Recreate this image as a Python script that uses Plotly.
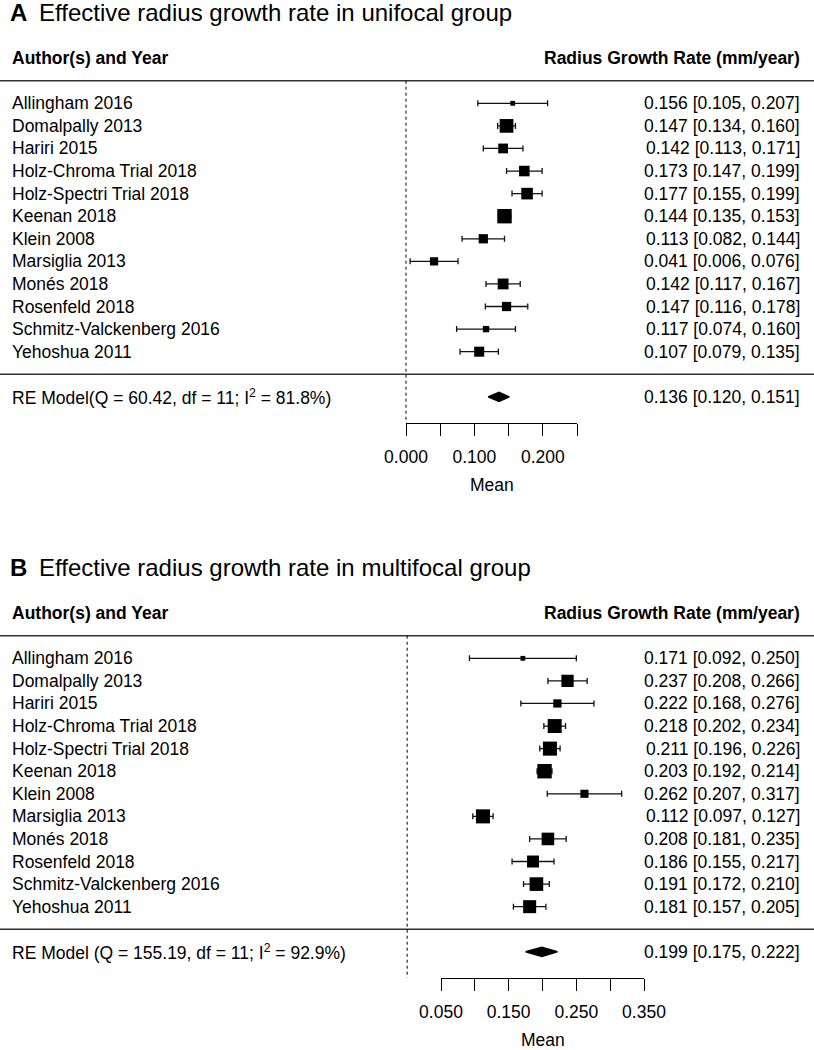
import numpy as np
import plotly.graph_objects as go

# ---------------- data ----------------
studies = ["Allingham 2016", "Domalpally 2013", "Hariri 2015", "Holz-Chroma Trial 2018",
           "Holz-Spectri Trial 2018", "Keenan 2018", "Klein 2008", "Marsiglia 2013",
           "Monés 2018", "Rosenfeld 2018", "Schmitz-Valckenberg 2016", "Yehoshua 2011"]

uni_est = [0.156, 0.147, 0.142, 0.173, 0.177, 0.144, 0.113, 0.041, 0.142, 0.147, 0.117, 0.107]
uni_lo = [0.105, 0.134, 0.113, 0.147, 0.155, 0.135, 0.082, 0.006, 0.117, 0.116, 0.074, 0.079]
uni_hi = [0.207, 0.160, 0.171, 0.199, 0.199, 0.153, 0.144, 0.076, 0.167, 0.178, 0.160, 0.135]
uni_re = [0.136, 0.120, 0.151]          # estimate, lower, upper
uni_het = [60.42, 11, 81.8]             # Q, df, I^2
uni_ticks = [0.00, 0.05, 0.10, 0.15, 0.20, 0.25]
uni_ticklabels = ["0.000", "", "0.100", "", "0.200", ""]

multi_est = [0.171, 0.237, 0.222, 0.218, 0.211, 0.203, 0.262, 0.112, 0.208, 0.186, 0.191, 0.181]
multi_lo = [0.092, 0.208, 0.168, 0.202, 0.196, 0.192, 0.207, 0.097, 0.181, 0.155, 0.172, 0.157]
multi_hi = [0.250, 0.266, 0.276, 0.234, 0.226, 0.214, 0.317, 0.127, 0.235, 0.217, 0.210, 0.205]
multi_re = [0.199, 0.175, 0.222]
multi_het = [155.19, 11, 92.9]
multi_ticks = [0.05, 0.10, 0.15, 0.20, 0.25, 0.30, 0.35]
multi_ticklabels = ["0.050", "", "0.150", "", "0.250", "", "0.350"]

titles = ["Effective radius growth rate in unifocal group",
          "Effective radius growth rate in multifocal group"]
letters = ["A", "B"]
header_left = "Author(s) and Year"
header_right = "Radius Growth Rate (mm/year)"
axis_title = "Mean"

# ---------------- layout constants ----------------
W, H = 814, 1050
FONT = "Liberation Sans, Arial, sans-serif"
FS = 17.5
MARK = 9.6
ROW0 = 103.3      # px of first study row (panel-relative)
STEP = 22.58      # px between rows
AXIS_PX = 423     # px of the x axis line (panel-relative)
DOM_PX = (0, 445)
OFFSETS = [0, 555]
AX_DOM = [(406, 577), (441, 644)]
AX_RANGE = [(0.0, 0.25), (0.05, 0.35)]


def re_weights(est, lo, hi):
    est, lo, hi = map(np.asarray, (est, lo, hi))
    v = ((hi - lo) / (2 * 1.959964)) ** 2
    w = 1 / v
    ybar = np.sum(w * est) / np.sum(w)
    q = np.sum(w * (est - ybar) ** 2)
    c = np.sum(w) - np.sum(w ** 2) / np.sum(w)
    tau2 = max(0.0, (q - (len(est) - 1)) / c)
    return 1 / (v + tau2)


fig = go.Figure()
shapes, annos = [], []
k = len(studies)

panels = [
    (uni_est, uni_lo, uni_hi, uni_re, uni_het, uni_ticks, uni_ticklabels, "RE Model"),
    (multi_est, multi_lo, multi_hi, multi_re, multi_het, multi_ticks, multi_ticklabels, "RE Model "),
]

for p, (est, lo, hi, re, het, ticks, ticklabels, relab) in enumerate(panels):
    off = OFFSETS[p]
    xa = "x" if p == 0 else "x2"
    ya = "y" if p == 0 else "y2"
    vxa = "x3" if p == 0 else "x4"
    xkey = "xaxis" if p == 0 else "xaxis2"
    ykey = "yaxis" if p == 0 else "yaxis2"
    vkey = "xaxis3" if p == 0 else "xaxis4"

    # visible axis domain/range -> consistent full-width data axis
    d0, d1 = AX_DOM[p]
    r0, r1 = AX_RANGE[p]
    scale = (d1 - d0) / (r1 - r0)
    x_at0 = d0 - r0 * scale
    full_range = [-x_at0 / scale, (W - x_at0) / scale]

    def px_to_y(px_rel):
        return k - (px_rel - ROW0) / STEP

    y_range = [px_to_y(DOM_PX[1]), px_to_y(DOM_PX[0])]
    ydom = [1 - (off + DOM_PX[1]) / H, 1 - (off + DOM_PX[0]) / H]

    fig.update_layout(**{
        xkey: dict(domain=[0, 1], range=full_range, visible=False, anchor=ya,
                   fixedrange=True, automargin=False),
        ykey: dict(domain=ydom, range=y_range, visible=False, anchor=xa,
                   fixedrange=True, automargin=False),
        vkey: dict(domain=[d0 / W, d1 / W], range=[r0, r1], anchor="free",
                   position=1 - (off + AXIS_PX) / H, showline=True, linecolor="black",
                   linewidth=1, ticks="outside", ticklen=12, tickwidth=1, tickcolor="black",
                   tickvals=ticks, ticktext=ticklabels, showgrid=False, zeroline=False,
                   tickfont=dict(family=FONT, size=FS, color="black"),
                   ticklabelstandoff=6, fixedrange=True, automargin=False),
    })

    rows = [k - i for i in range(k)]
    wr = re_weights(est, lo, hi)
    sizes = MARK * (0.5 + (wr - wr.min()) / (wr.max() - wr.min()))

    fig.add_trace(go.Scatter(
        x=est, y=rows, mode="markers", xaxis=xa, yaxis=ya,
        marker=dict(symbol="square", size=sizes, color="#000000", opacity=1,
                    line=dict(width=0)),
        error_x=dict(type="data", symmetric=False,
                     array=list(np.array(hi) - np.array(est)),
                     arrayminus=list(np.array(est) - np.array(lo)),
                     color="#111111", thickness=1.3, width=3),
        hoverinfo="skip", showlegend=False, cliponaxis=False))

    # summary diamond
    h = 0.2
    fig.add_trace(go.Scatter(
        x=[re[1], re[0], re[2], re[0], re[1]], y=[-1, -1 + h, -1, -1 - h, -1],
        mode="lines", fill="toself", fillcolor="black", line=dict(color="black", width=1.5),
        xaxis=xa, yaxis=ya, hoverinfo="skip", showlegend=False))

    # invisible trace to carry the visible axis
    fig.add_trace(go.Scatter(x=[ticks[0]], y=[0], xaxis=vxa, yaxis=ya, mode="markers",
                             marker=dict(opacity=0), hoverinfo="skip", showlegend=False))

    # horizontal rules
    for yy in (k + 1, 0):
        shapes.append(dict(type="line", xref="paper", yref=ya, x0=0, x1=1, y0=yy, y1=yy,
                           line=dict(color="#333333", width=1.5)))
    # reference line at 0
    shapes.append(dict(type="line", xref=xa, yref=ya, x0=0, x1=0, y0=k + 1,
                       y1=px_to_y(AXIS_PX), line=dict(color="black", width=1, dash="dot")))

    tf = dict(family=FONT, size=FS, color="black")
    for i, name in enumerate(studies):
        annos.append(dict(text=name, xref="paper", yref=ya, x=10 / W, y=rows[i],
                          xanchor="left", yanchor="middle", showarrow=False, font=tf))
        annos.append(dict(text=f"{est[i]:.3f} [{lo[i]:.3f}, {hi[i]:.3f}]", xref="paper",
                          yref=ya, x=802 / W, y=rows[i], xanchor="right", yanchor="middle",
                          showarrow=False, font=tf))
    annos.append(dict(text=f"{relab}(Q = {het[0]:.2f}, df = {het[1]}; I<sup>2</sup> = {het[2]:.1f}%)",
                      xref="paper", yref=ya, x=10 / W, y=-1, xanchor="left",
                      yanchor="middle", showarrow=False, font=tf))
    annos.append(dict(text=f"{re[0]:.3f} [{re[1]:.3f}, {re[2]:.3f}]", xref="paper", yref=ya,
                      x=802 / W, y=-1, xanchor="right", yanchor="middle", showarrow=False,
                      font=tf))
    annos.append(dict(text=f"<b>{header_left}</b>", xref="paper", yref=ya, x=10 / W, y=k + 2,
                      xanchor="left", yanchor="middle", showarrow=False, font=tf))
    annos.append(dict(text=f"<b>{header_right}</b>", xref="paper", yref=ya, x=802 / W, y=k + 2,
                      xanchor="right", yanchor="middle", showarrow=False, font=tf))
    annos.append(dict(text=f"<b>{letters[p]}</b>", xref="paper", yref="paper", x=8 / W,
                      y=1 - (off + 12) / H, xanchor="left", yanchor="middle",
                      showarrow=False, font=dict(family=FONT, size=24, color="black")))
    annos.append(dict(text=titles[p], xref="paper", yref="paper", x=37 / W,
                      y=1 - (off + 12) / H, xanchor="left", yanchor="middle",
                      showarrow=False, font=dict(family=FONT, size=24, color="black")))
    annos.append(dict(text=axis_title, xref=f"{vxa} domain", yref="paper", x=0.5,
                      y=1 - (off + 485) / H, xanchor="center", yanchor="middle",
                      showarrow=False, font=tf))

fig.update_layout(width=W, height=H, margin=dict(l=0, r=0, t=0, b=0, autoexpand=False),
                  plot_bgcolor="rgba(0,0,0,0)", paper_bgcolor="white", showlegend=False,
                  shapes=shapes, annotations=annos, font=dict(family=FONT, size=FS))

fig.write_html("out.html", config={"displayModeBar": False},
               post_script="document.body.style.margin='0';")
